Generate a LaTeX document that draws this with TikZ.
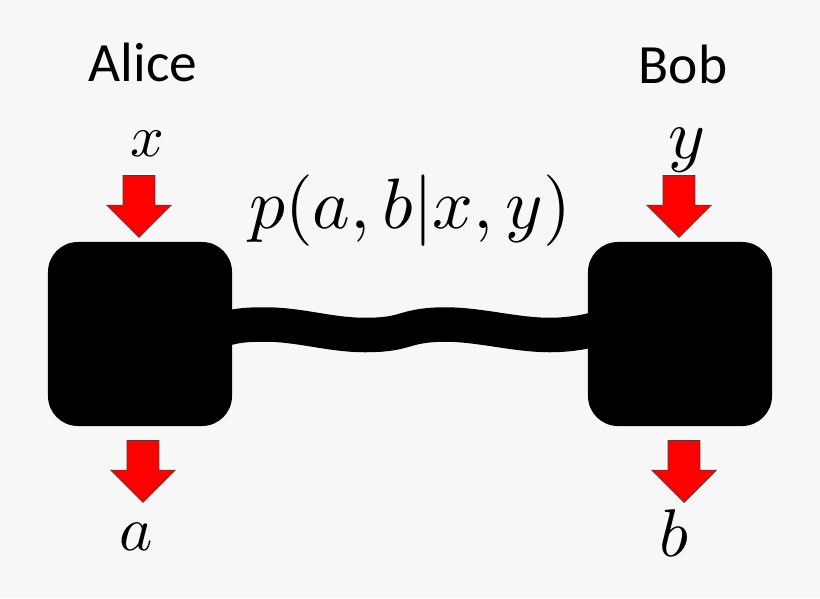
\documentclass[tikz,border=0pt]{standalone}
\usepackage{fontspec}
\setmainfont{Carlito}
\usetikzlibrary{shapes.arrows}

\definecolor{paper}{HTML}{F7F7F7}
\definecolor{arrowred}{HTML}{FF0000}

\tikzset{
    party/.style={font=\fontsize{39.4}{46}\selectfont, anchor=base},
    letter/.style={anchor=base},
    device/.style={fill=black, rounded corners=0.75cm, minimum size=4.6cm, inner sep=0},
    wire/.style={line width=0.8625cm},
    redarrow/.style={single arrow, draw=black!75, fill=arrowred, line width=0.5pt, inner sep=0.39cm,
        shape border rotate=270, minimum height=1.55cm, minimum width=1.6cm,
        single arrow head extend=0.41cm, single arrow head indent=0cm},
}

\begin{document}
\begin{tikzpicture}[x=0.025cm, y=-0.025cm]
    \useasboundingbox[fill=paper] (0,0) rectangle (820,598);

    % Connection between the devices.
    \coordinate (wirea) at (228,328);
    \coordinate (wireb) at (592,330);
    \draw [wire] (wirea) .. controls (240,325) and (250,324.5) .. (265,324.5)
        .. controls (300,324.5) and (330,335) .. (365,335)
        .. controls (385,335) and (395,333) .. (405,330)
        .. controls (418,326) and (430,324.5) .. (445,324.5)
        .. controls (480,324.5) and (515,335) .. (550,335)
        .. controls (565,335) and (580,333) .. (wireb);

    % Devices.
    \node [device] (alicebox) at (140,334) {};
    \node [device] (bobbox)   at (680,334) {};

    % Names.
    \node [party] (alicename) at (143,81) {Alice};
    \node [party] (bobname)   at (683,83) {Bob};

    % Inputs.
    \node [letter, scale=4.2] (xlabel) at (147,156) {$x$};
    \node [letter, scale=5] (ylabel) at (687,158) {$y$};
    \node [redarrow] (xarrow) at (139,198.5) {};
    \node [redarrow] (yarrow) at (679,198.5) {};

    % Outputs.
    \node [redarrow] (aarrow) at (143,463.5) {};
    \node [redarrow] (barrow) at (684,463.5) {};
    \node [letter, scale=4.5] (alabel) at (136,550) {$a$};
    \node [letter, scale=4.8] (blabel) at (674,556) {$b$};

    % Correlation.
    \node [scale=5.08, anchor=base] (corr) at (410,228) {$p(a,b|x,y)$};
\end{tikzpicture}
\end{document}
